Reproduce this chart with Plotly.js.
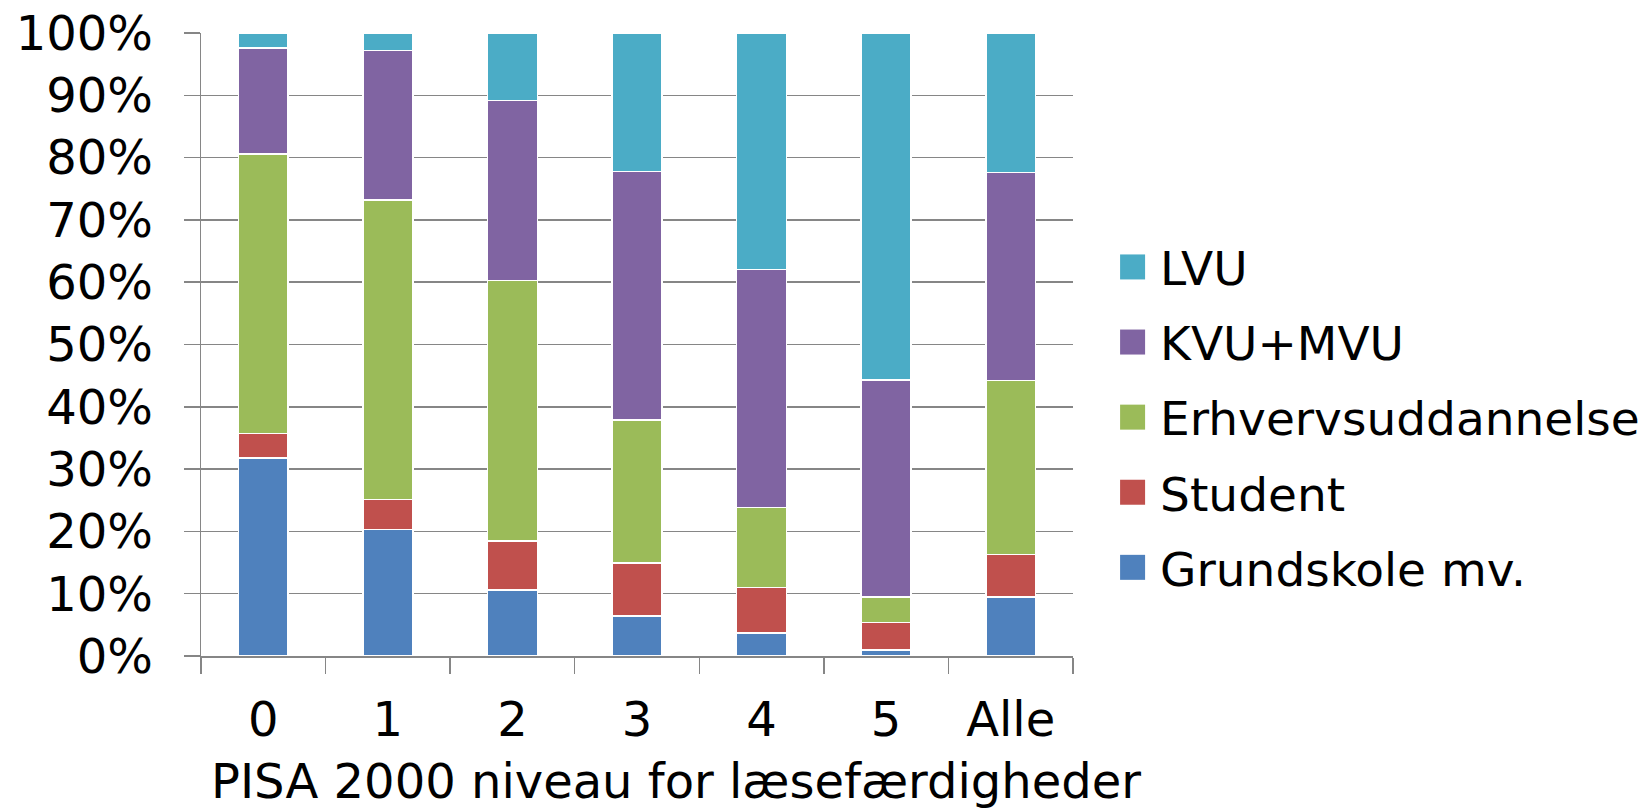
<!DOCTYPE html>
<html>
<head>
<meta charset="utf-8">
<script src="https://cdn.plot.ly/plotly-3.0.1.min.js"></script>
<style>
html, body { margin: 0; padding: 0; background: #ffffff; }
#chart { width: 1650px; height: 808px; }
</style>
</head>
<body>
<div id="chart"></div>
<script>
const categories = ['0', '1', '2', '3', '4', '5', 'Alle'];
const grundskole = [31.8, 20.3, 10.6, 6.4, 3.7, 1.0, 9.5];
const student = [3.9, 4.8, 7.9, 8.5, 7.3, 4.4, 6.8];
const erhvervsuddannelse = [44.9, 48.1, 41.8, 23.0, 12.8, 4.1, 27.9];
const kvuMvu = [17.0, 24.0, 28.9, 39.9, 38.2, 34.8, 33.4];
const lvu = [2.4, 2.8, 10.8, 22.2, 38.0, 55.7, 22.4];
const seriesNames = ['Grundskole mv.', 'Student', 'Erhvervsuddannelse', 'KVU+MVU', 'LVU'];
const seriesColors = ['#4F81BD', '#C0504D', '#9BBB59', '#8064A2', '#4BACC6'];
const xTitle = 'PISA 2000 niveau for læsefærdigheder';

const seriesValues = [grundskole, student, erhvervsuddannelse, kvuMvu, lvu];
const traces = seriesValues.map((vals, i) => ({
  type: 'bar',
  name: seriesNames[i],
  legendgroup: 'g' + i,
  legendrank: 1000 - i,
  x: categories,
  y: vals,
  marker: { color: seriesColors[i], line: { color: '#ffffff', width: 1.5 } },
  hoverinfo: 'skip'
}));

const FONT = '"DejaVu Sans", Verdana, sans-serif';
const FS = 48;
const layout = {
  width: 1650,
  height: 808,
  paper_bgcolor: '#ffffff',
  plot_bgcolor: '#ffffff',
  font: { family: FONT, size: FS, color: '#000000' },
  margin: { l: 201, r: 577, t: 33, b: 152, pad: 0, autoexpand: false },
  barmode: 'stack',
  bargap: 0.6,
  showlegend: true,
  legend: {
    traceorder: 'grouped',
    tracegroupgap: 11,
    x: 1.054, xanchor: 'left',
    y: 0.383, yanchor: 'middle',
    font: { family: FONT, size: 47, color: '#000000' },
    bgcolor: 'rgba(0,0,0,0)'
  },
  xaxis: {
    type: 'category',
    showline: true, linecolor: '#868686', linewidth: 1.5,
    ticks: 'outside', tickson: 'boundaries', ticklen: 16, tickcolor: '#868686', tickwidth: 1.5,
    showgrid: false,
    ticklabelstandoff: 21,
    tickfont: { family: FONT, size: FS, color: '#000000' }
  },
  yaxis: {
    range: [0, 100],
    dtick: 10,
    ticksuffix: '%',
    showline: true, linecolor: '#868686', linewidth: 1.5,
    ticks: 'outside', ticklen: 16, tickcolor: '#868686', tickwidth: 1.5,
    showgrid: true, gridcolor: '#868686', gridwidth: 1.5,
    zeroline: false,
    ticklabelstandoff: 21,
    tickfont: { family: FONT, size: FS, color: '#000000' }
  },
  annotations: [{
    text: xTitle,
    xref: 'paper', yref: 'paper',
    x: 0.545, y: -0.2,
    xanchor: 'center', yanchor: 'middle',
    showarrow: false,
    font: { family: FONT, size: FS, color: '#000000' }
  }]
};

Plotly.newPlot('chart', traces, layout, { staticPlot: true, displayModeBar: false }).then(() => {
  document.querySelectorAll('.legend .legendpoints path').forEach(p => {
    p.setAttribute('d', 'M5,12.5H-20V-12.5H5Z');
    p.style.strokeWidth = '0px';
    p.removeAttribute('clip-path');
  });
  document.querySelectorAll('.legend .legendpoints, .legend .legendpoints g').forEach(g => {
    g.removeAttribute('clip-path');
  });
});
</script>
</body>
</html>
